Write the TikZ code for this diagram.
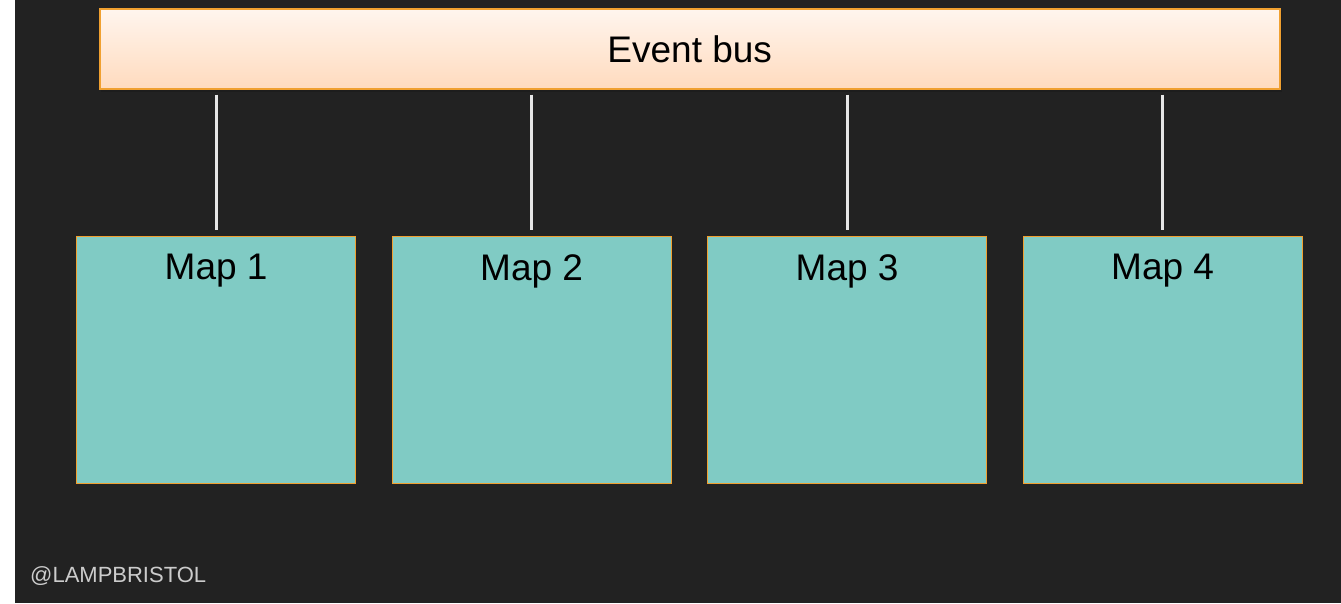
\documentclass[tikz,border=0pt]{standalone}
\usepackage{fontspec}
\setmainfont{Liberation Sans}
\definecolor{bg}{HTML}{222222}
\definecolor{edge}{HTML}{F0A030}
\definecolor{teal}{HTML}{80CBC4}
\definecolor{bustop}{HTML}{FFF5EE}
\definecolor{busbot}{HTML}{FFDBBE}
\definecolor{wire}{HTML}{E6E6E6}
\definecolor{tag}{HTML}{CCCCCC}
\begin{document}
\begin{tikzpicture}[x=1pt,y=-1pt,
  mapbox/.style={draw=edge,line width=1.3pt,fill=teal,minimum width=279pt,minimum height=247pt,anchor=north west,inner sep=0pt},
  maplabel/.style={font=\fontsize{37}{42}\selectfont,text=black},
  wireline/.style={draw=wire,line width=2.8pt,shorten <=5pt,shorten >=6pt}]
\useasboundingbox (0,0) rectangle (1341,603);
\fill[white] (0,0) rectangle (15,603);
\fill[bg] (15,0) rectangle (1341,603);
% shadow of bus
\fill[black!90,opacity=0.5] (101,11) rectangle (1282,92);
\node[draw=edge,line width=1.5pt,top color=bustop,bottom color=busbot,minimum width=1180pt,minimum height=80pt,anchor=north west,inner sep=0pt] (bus) at (99,8) {};
\node[font=\fontsize{37}{42}\selectfont] at ([yshift=-1pt]bus.center) {Event bus};
\node[mapbox] (m1) at (76,236) {};
\node[mapbox] (m2) at (391.5,236) {};
\node[mapbox] (m3) at (707,236) {};
\node[mapbox] (m4) at (1022.5,236) {};
\foreach \i in {1,2,3,4}{
  \node[maplabel] (l\i) at ([yshift=-35pt]m\i.north) {Map \i};
  \draw[wireline] (m\i.north |- bus.south) -- (m\i.north);
}
\node[font=\fontsize{22}{26}\selectfont,text=tag,anchor=west,inner sep=0pt] (tag) at (30,576) {@LAMPBRISTOL};
\end{tikzpicture}
\end{document}
